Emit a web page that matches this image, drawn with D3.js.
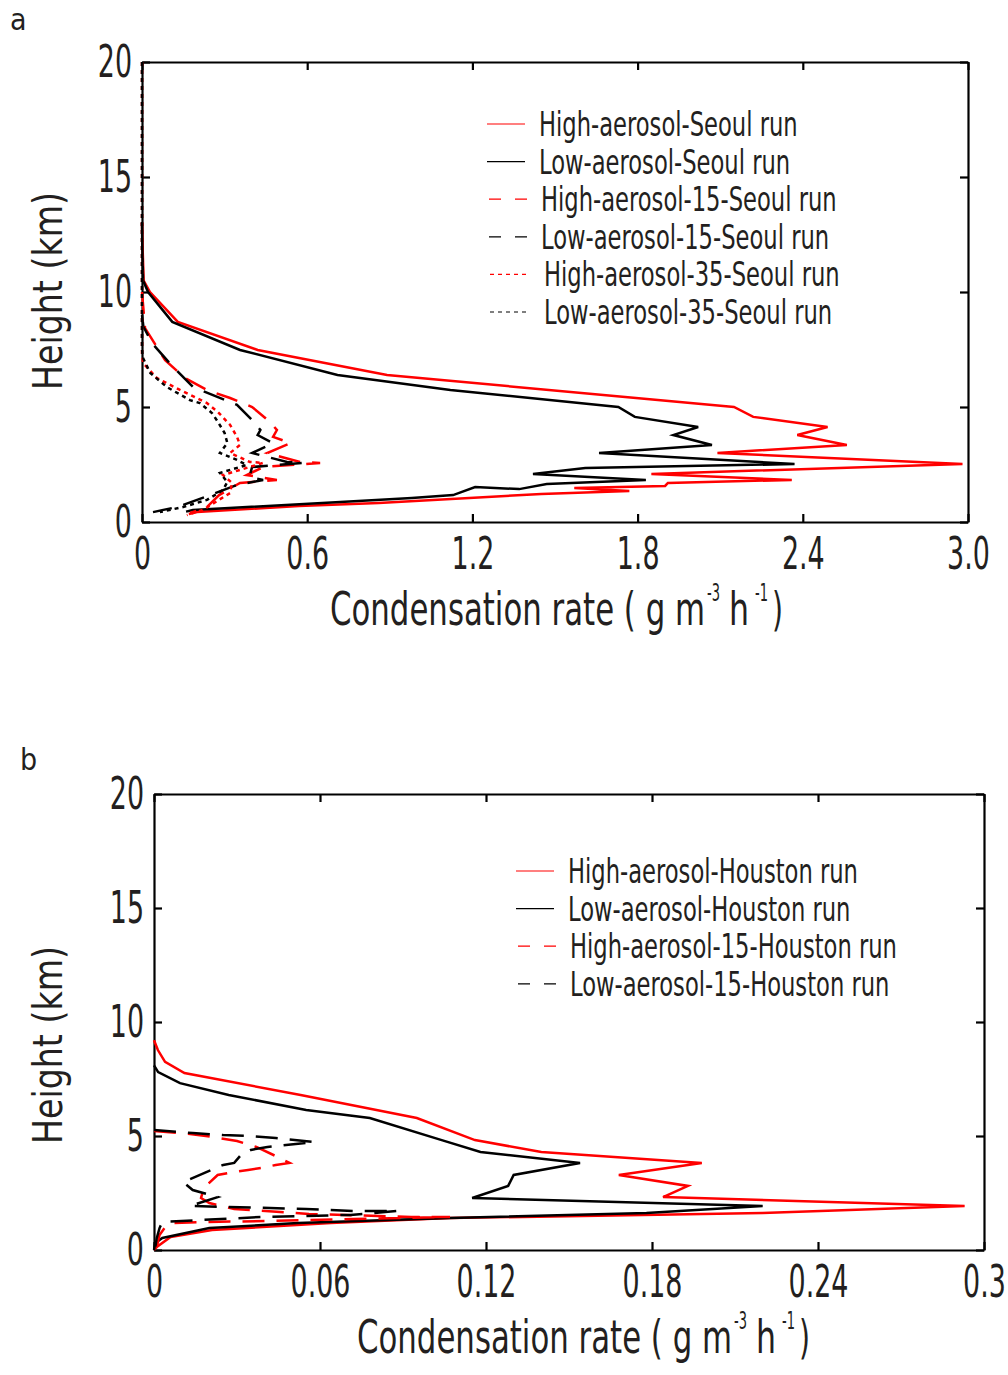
<!DOCTYPE html>
<html>
<head>
<meta charset="utf-8">
<script src="https://cdn.jsdelivr.net/npm/d3@7"></script>
<style>
  body { margin: 0; background: #fff; }
  text { font-family: "Liberation Sans Narrow", "DejaVu Sans Condensed", "Roboto", sans-serif; fill: #231f20; }
</style>
</head>
<body>
<svg id="chart" width="1008" height="1375"></svg>
<script>
// ---- data: [condensation rate, height km] ----
const yTicks = [0, 5, 10, 15, 20];
const aXTicks = [0, 0.6, 1.2, 1.8, 2.4, 3.0];
const aXLabels = ["0", "0.6", "1.2", "1.8", "2.4", "3.0"];
const bXTicks = [0, 0.06, 0.12, 0.18, 0.24, 0.3];
const bXLabels = ["0", "0.06", "0.12", "0.18", "0.24", "0.3"];

const aNames = ["High-aerosol-Seoul run", "Low-aerosol-Seoul run", "High-aerosol-15-Seoul run",
  "Low-aerosol-15-Seoul run", "High-aerosol-35-Seoul run", "Low-aerosol-35-Seoul run"];
const bNames = ["High-aerosol-Houston run", "Low-aerosol-Houston run",
  "High-aerosol-15-Houston run", "Low-aerosol-15-Houston run"];

const seoulHigh = [[0, 13], [0.002, 12], [0.006, 10.5], [0.029, 10.0], [0.13, 8.7], [0.42, 7.48],
  [0.89, 6.39], [2.15, 5.0], [2.22, 4.57], [2.49, 4.13], [2.38, 3.78], [2.56, 3.35], [2.09, 3.0],
  [2.98, 2.52], [1.85, 2.09], [2.36, 1.83], [1.91, 1.70], [1.90, 1.57], [1.57, 1.48], [1.77, 1.35],
  [1.45, 1.22], [0.86, 0.83], [0.57, 0.70], [0.20, 0.43], [0.17, 0.35]];
const seoulLow = [[0, 13], [0.001, 12], [0.004, 10.5], [0.022, 10.0], [0.11, 8.7], [0.356, 7.48],
  [0.71, 6.39], [1.12, 5.74], [1.73, 5.0], [1.79, 4.57], [2.02, 4.13], [1.93, 3.78], [2.07, 3.35],
  [1.66, 3.0], [2.37, 2.52], [1.61, 2.35], [1.42, 2.09], [1.83, 1.83], [1.47, 1.65], [1.37, 1.43],
  [1.21, 1.52], [1.13, 1.17], [0.98, 1.04], [0.72, 0.87], [0.185, 0.52], [0.16, 0.45]];
const seoulHigh15 = [[0, 10], [0.011, 8.43], [0.084, 7.04], [0.156, 6.26], [0.236, 5.74], [0.32, 5.39],
  [0.40, 5.0], [0.465, 4.35], [0.49, 4.0], [0.476, 3.7], [0.54, 3.43], [0.455, 3.0], [0.574, 2.61],
  [0.647, 2.57], [0.44, 2.39], [0.38, 2.04], [0.49, 1.83], [0.356, 1.70], [0.28, 1.17],
  [0.236, 0.65], [0.175, 0.39]];
const seoulLow15 = [[0, 9], [0.005, 8.5], [0.036, 7.78], [0.10, 6.91], [0.185, 5.87], [0.345, 5.09],
  [0.40, 4.43], [0.43, 4.0], [0.42, 3.78], [0.476, 3.43], [0.40, 3.0], [0.527, 2.61], [0.585, 2.57],
  [0.40, 2.39], [0.39, 1.96], [0.44, 1.83], [0.345, 1.61], [0.23, 1.09], [0.127, 0.65], [0.04, 0.43]];
const seoulHigh35 = [[0, 20], [0, 7.3], [0.004, 6.91], [0.054, 6.26], [0.138, 5.74], [0.236, 5.17],
  [0.276, 4.78], [0.32, 4.22], [0.345, 3.7], [0.356, 3.35], [0.32, 3.0], [0.392, 2.61], [0.44, 2.57],
  [0.294, 2.04], [0.327, 1.70], [0.32, 1.26], [0.22, 0.52], [0.163, 0.3]];
const seoulLow35 = [[0, 20], [0, 7.6], [0.002, 7.17], [0.03, 6.48], [0.09, 5.87], [0.174, 5.3],
  [0.21, 5.17], [0.254, 4.74], [0.276, 4.35], [0.30, 3.87], [0.31, 3.43], [0.283, 3.0], [0.345, 2.7],
  [0.38, 2.48], [0.283, 2.13], [0.31, 1.74], [0.294, 1.39], [0.236, 0.96], [0.149, 0.65], [0.065, 0.43]];

const houstonHigh = [[0, 9.2], [0.0014, 8.77], [0.004, 8.25], [0.011, 7.76], [0.053, 6.8], [0.095, 5.79],
  [0.116, 4.82], [0.14, 4.3], [0.198, 3.82], [0.168, 3.29], [0.193, 2.81], [0.184, 2.32], [0.293, 1.93],
  [0.22, 1.62], [0.107, 1.4], [0.064, 1.18], [0.021, 0.88], [0.006, 0.57], [0.001, 0.13], [0, 0]];
const houstonLow = [[0, 8.1], [0.0015, 7.8], [0.0094, 7.32], [0.027, 6.8], [0.055, 6.14], [0.078, 5.79],
  [0.104, 4.82], [0.118, 4.3], [0.154, 3.82], [0.130, 3.29], [0.128, 2.81], [0.115, 2.28], [0.220, 1.93],
  [0.178, 1.62], [0.107, 1.4], [0.052, 1.18], [0.020, 0.96], [0.003, 0.53], [0.0004, 0.3], [0, 0]];
const houstonHigh15 = [[0, 5.22], [0.013, 5.09], [0.021, 4.96], [0.030, 4.78], [0.037, 4.52], [0.044, 4.12],
  [0.049, 3.82], [0.044, 3.73], [0.039, 3.6], [0.034, 3.51], [0.027, 3.38], [0.023, 3.29], [0.018, 2.72],
  [0.017, 2.28], [0.020, 2.06], [0.029, 1.80], [0.056, 1.58], [0.093, 1.45], [0.107, 1.45], [0.072, 1.36],
  [0.041, 1.27], [0.018, 1.23], [0.006, 1.18], [0.004, 1.0], [0.002, 0.66], [0.001, 0.13]];
const houstonLow15 = [[0, 5.26], [0.014, 5.13], [0.025, 5.04], [0.034, 5.0], [0.044, 4.91], [0.058, 4.74],
  [0.041, 4.52], [0.035, 4.39], [0.032, 4.25], [0.029, 3.82], [0.025, 3.73], [0.0105, 2.98], [0.014, 2.63],
  [0.023, 2.32], [0.013, 1.93], [0.027, 1.89], [0.055, 1.80], [0.073, 1.71], [0.088, 1.71], [0.071, 1.54],
  [0.039, 1.45], [0.018, 1.32], [0.003, 1.23], [0.002, 0.96], [0.001, 0.53], [0.0003, 0]];

const svg = d3.select("#chart");
const RED = "#ff0000", BLACK = "#000000";
const DASH = "22,12", DOT = "4,4";

// squeeze text horizontally to mimic the condensed font of the original
function squeeze(sel, k) {
  sel.each(function () {
    const w = this.getComputedTextLength();
    d3.select(this).attr("textLength", w * k).attr("lengthAdjust", "spacingAndGlyphs");
  });
}

function panel(cfg) {
  const x = d3.scaleLinear().domain(cfg.xDomain).range([cfg.left, cfg.right]);
  const y = d3.scaleLinear().domain([0, 20]).range([cfg.bottom, cfg.top]);
  const g = svg.append("g");

  const styleAxis = (ax) => {
    ax.selectAll(".domain").attr("stroke", "#000").attr("stroke-width", 2.2);
    ax.selectAll(".tick line").attr("stroke", "#000").attr("stroke-width", 2.2);
    ax.attr("font-size", null).attr("font-family", null);
    ax.selectAll("text").attr("font-size", 44).attr("fill", "#231f20").call(squeeze, 0.68);
  };

  g.append("g").attr("transform", `translate(0,${cfg.bottom})`)
    .call(d3.axisBottom(x).tickValues(cfg.xTicks).tickFormat((d, i) => cfg.xLabels[i])
      .tickSizeInner(-8).tickSizeOuter(0).tickPadding(16))
    .call(styleAxis);
  g.append("g").attr("transform", `translate(0,${cfg.top})`)
    .call(d3.axisTop(x).tickValues(cfg.xTicks).tickFormat("").tickSizeInner(-8).tickSizeOuter(0))
    .call(styleAxis);
  g.append("g").attr("transform", `translate(${cfg.left},0)`)
    .call(d3.axisLeft(y).tickValues(yTicks).tickFormat(d3.format("d"))
      .tickSizeInner(-8).tickSizeOuter(0).tickPadding(10))
    .call(styleAxis);
  g.append("g").attr("transform", `translate(${cfg.right},0)`)
    .call(d3.axisRight(y).tickValues(yTicks).tickFormat("").tickSizeInner(-8).tickSizeOuter(0))
    .call(styleAxis);

  const line = d3.line().x(d => x(d[0])).y(d => y(d[1]));
  cfg.series.forEach(s => {
    g.append("path").datum(s.data)
      .attr("fill", "none")
      .attr("stroke", s.color)
      .attr("stroke-width", 2.5)
      .attr("stroke-dasharray", s.dash)
      .attr("d", line);
  });

  // legend
  const lg = g.append("g").attr("transform", `translate(${cfg.legendX},${cfg.legendY})`);
  cfg.series.forEach((s, i) => {
    const yy = i * 37.6;
    const shift = s.dash === DOT ? 3 : (s.dash ? 2 : 0);
    lg.append("line")
      .attr("x1", shift).attr("x2", 38 + shift).attr("y1", yy).attr("y2", yy)
      .attr("stroke", s.color).attr("stroke-width", 1.2)
      .attr("stroke-dasharray", s.dash === DOT ? "4,4" : (s.dash ? "12,14" : null));
    lg.append("text")
      .attr("x", 52 + shift + (s.dash === DOT ? 2 : 0)).attr("y", yy + 12)
      .attr("font-size", 34)
      .text(s.name)
      .call(squeeze, 0.74);
  });

  // axis titles: base text, then superscripts placed after it
  const ty = cfg.bottom + 103;
  const x0 = cfg.xTitleX;
  g.append("text").attr("x", x0).attr("y", ty).attr("font-size", 46)
    .attr("textLength", 375).attr("lengthAdjust", "spacingAndGlyphs")
    .text("Condensation rate ( g m");
  g.append("text").attr("x", x0 + 377).attr("y", ty - 24).attr("font-size", 24)
    .attr("textLength", 13).attr("lengthAdjust", "spacingAndGlyphs").text("-3");
  g.append("text").attr("x", x0 + 399).attr("y", ty).attr("font-size", 46)
    .attr("textLength", 20).attr("lengthAdjust", "spacingAndGlyphs").text("h");
  g.append("text").attr("x", x0 + 425).attr("y", ty - 24).attr("font-size", 24)
    .attr("textLength", 13).attr("lengthAdjust", "spacingAndGlyphs").text("-1");
  g.append("text").attr("x", x0 + 442).attr("y", ty).attr("font-size", 46)
    .attr("textLength", 11).attr("lengthAdjust", "spacingAndGlyphs").text(")");

  g.append("text")
    .attr("transform", `translate(62,${cfg.yTitleY}) rotate(-90)`)
    .attr("text-anchor", "middle")
    .attr("font-size", 40)
    .attr("textLength", 198).attr("lengthAdjust", "spacingAndGlyphs")
    .text("Height (km)");

  g.append("text").attr("x", cfg.tagX).attr("y", cfg.tagY).attr("font-size", 30).text(cfg.tag);
}

panel({
  tag: "a", tagX: 10, tagY: 30,
  left: 142, right: 968, top: 62, bottom: 522,
  xDomain: [0, 3.0], xTicks: aXTicks, xLabels: aXLabels,
  legendX: 487, legendY: 124, xTitleX: 330, yTitleY: 291,
  series: [
    { name: aNames[0], data: seoulHigh, color: RED, dash: null },
    { name: aNames[1], data: seoulLow, color: BLACK, dash: null },
    { name: aNames[2], data: seoulHigh15, color: RED, dash: DASH },
    { name: aNames[3], data: seoulLow15, color: BLACK, dash: DASH },
    { name: aNames[4], data: seoulHigh35, color: RED, dash: DOT },
    { name: aNames[5], data: seoulLow35, color: BLACK, dash: DOT }
  ]
});

panel({
  tag: "b", tagX: 20, tagY: 770,
  left: 154, right: 984, top: 794, bottom: 1250,
  xDomain: [0, 0.3], xTicks: bXTicks, xLabels: bXLabels,
  legendX: 516, legendY: 871, xTitleX: 357, yTitleY: 1045,
  series: [
    { name: bNames[0], data: houstonHigh, color: RED, dash: null },
    { name: bNames[1], data: houstonLow, color: BLACK, dash: null },
    { name: bNames[2], data: houstonHigh15, color: RED, dash: DASH },
    { name: bNames[3], data: houstonLow15, color: BLACK, dash: DASH }
  ]
});
</script>
</body>
</html>
